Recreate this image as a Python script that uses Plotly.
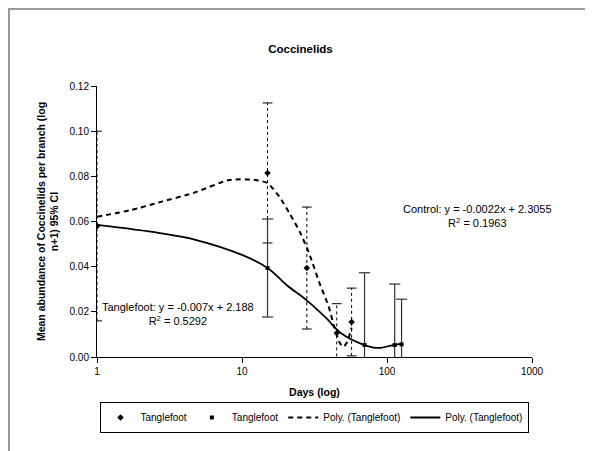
import plotly.graph_objects as go

# data
days_a = [1, 15, 28, 45, 57]
mean_a = [0.058, 0.0815, 0.0394, 0.0106, 0.0155]
ci_a = [0.042, 0.031, 0.027, 0.013, 0.015]

days_b = [1, 15, 70, 113, 126]
mean_b = [0.058, 0.0394, 0.0053, 0.0053, 0.0056]
ci_b = [0.0, 0.0217, 0.032, 0.027, 0.020]

# polynomial trend lines
fit_a_x = [1, 1.7, 2.8, 4.6, 8.2, 12.4, 15, 18.1, 21.2, 25, 29, 34, 39.6, 43.4, 47, 50, 53, 57]
fit_a_y = [0.0621, 0.065, 0.0688, 0.0726, 0.0784, 0.0784, 0.077, 0.071, 0.0638, 0.0555,
           0.046, 0.0333, 0.0223, 0.013, 0.0065, 0.0045, 0.0065, 0.013]
fit_b_x = [1, 2.7, 4.85, 10, 15, 20.3, 27.8, 38, 48, 70, 88, 110, 126]
fit_b_y = [0.0585, 0.0549, 0.0518, 0.0452, 0.0394, 0.0319, 0.0252, 0.0173, 0.0106,
           0.0053, 0.004, 0.0053, 0.0058]

FONT = "Liberation Sans, Arial, sans-serif"
W, H = 585, 443  # page adds an 8px body margin


def bar_segments(xs, ys, es):
    bx, by, cx, cy = [], [], [], []
    for x, y, e in zip(xs, ys, es):
        if e <= 0:
            continue
        bx += [x, x, None]
        by += [y - e, y + e, None]
        cx += [x, x]
        cy += [y - e, y + e]
    return bx, by, cx, cy


fig = go.Figure()

# dotted error bars
bx, by, cx, cy = bar_segments(days_a, mean_a, ci_a)
fig.add_trace(go.Scatter(x=bx, y=by, mode="lines", showlegend=False, hoverinfo="skip",
                         line=dict(color="black", width=1, dash="dot")))
fig.add_trace(go.Scatter(x=cx, y=cy, mode="markers", showlegend=False, hoverinfo="skip",
                         marker=dict(symbol="line-ew", size=7, line=dict(color="black", width=1))))

# solid error bars
bx, by, cx, cy = bar_segments(days_b, mean_b, ci_b)
fig.add_trace(go.Scatter(x=bx, y=by, mode="lines", showlegend=False, hoverinfo="skip",
                         line=dict(color="#333333", width=1.2)))
fig.add_trace(go.Scatter(x=cx, y=cy, mode="markers", showlegend=False, hoverinfo="skip",
                         marker=dict(symbol="line-ew", size=8, line=dict(color="#333333", width=1.2))))

fig.add_trace(go.Scatter(x=days_a, y=mean_a, mode="markers", name="Tanglefoot",
                         marker=dict(symbol="diamond", size=5, color="black")))
fig.add_trace(go.Scatter(x=days_b, y=mean_b, mode="markers", name="Tanglefoot",
                         marker=dict(symbol="square", size=4, color="black")))
fig.add_trace(go.Scatter(x=fit_a_x, y=fit_a_y, mode="lines", name="Poly. (Tanglefoot)",
                         line=dict(color="black", width=2, dash="5px,4px", shape="spline",
                                   smoothing=0.6)))
fig.add_trace(go.Scatter(x=fit_b_x, y=fit_b_y, mode="lines", name="Poly. (Tanglefoot)",
                         line=dict(color="black", width=1.8, shape="spline")))

fig.add_annotation(x=0.874, y=0.52, xref="paper", yref="paper", showarrow=False,
                   xanchor="center", yanchor="middle",
                   text="Control: y = -0.0022x + 2.3055<br>R<sup>2</sup> = 0.1963",
                   font=dict(size=11, color="black"), align="center")
fig.add_annotation(x=0.186, y=0.159, xref="paper", yref="paper", showarrow=False,
                   xanchor="center", yanchor="middle",
                   text="Tanglefoot: y = -0.007x + 2.188<br>R<sup>2</sup> = 0.5292",
                   font=dict(size=11, color="black"), align="center")

# grey frame lines of the original sheet (top and left edge)
fig.add_shape(type="line", xref="paper", yref="paper", x0=-0.21, x1=1.2, y0=1.284, y1=1.284,
              line=dict(color="#999999", width=2))
fig.add_shape(type="line", xref="paper", yref="paper", x0=-0.2023, x1=-0.2023, y0=1.29, y1=-0.36,
              line=dict(color="#999999", width=2))

fig.update_layout(
    width=W, height=H,
    margin=dict(l=89, r=61, t=78, b=94, autoexpand=False),
    paper_bgcolor="white", plot_bgcolor="white",
    font=dict(family=FONT, size=10, color="black"),
    title=dict(text="<b>Coccinelids</b>", x=0.5, xanchor="center", yref="container",
               y=1 - 41 / H, yanchor="middle", font=dict(size=11.5)),
    xaxis=dict(type="log", range=[0, 3], tickvals=[1, 10, 100, 1000], ticktext=["1", "10", "100", "1000"],
               showline=True, linecolor="black", linewidth=1, ticks="outside", ticklen=5,
               tickcolor="black", showgrid=False, zeroline=False, automargin=False,
               title=dict(text="<b>Days (log)</b>", standoff=12, font=dict(size=10.5))),
    yaxis=dict(range=[0, 0.12], tickvals=[0, 0.02, 0.04, 0.06, 0.08, 0.10, 0.12], tickformat=".2f",
               showline=True, linecolor="black", linewidth=1, ticks="outside", ticklen=5,
               tickcolor="black", showgrid=False, zeroline=False, automargin=False,
               title=dict(text="<b>Mean abundance of Coccinelids per branch (log<br>n+1) 95% CI</b>",
                          standoff=8, font=dict(size=10.5))),
    legend=dict(orientation="h", xref="container", yref="container", x=306 / W, xanchor="center",
                y=1 - 394 / H, yanchor="top",
                bordercolor="black", borderwidth=1, font=dict(size=10),
                itemwidth=30, tracegroupgap=0),
    showlegend=True,
)

fig.write_html("out.html")
